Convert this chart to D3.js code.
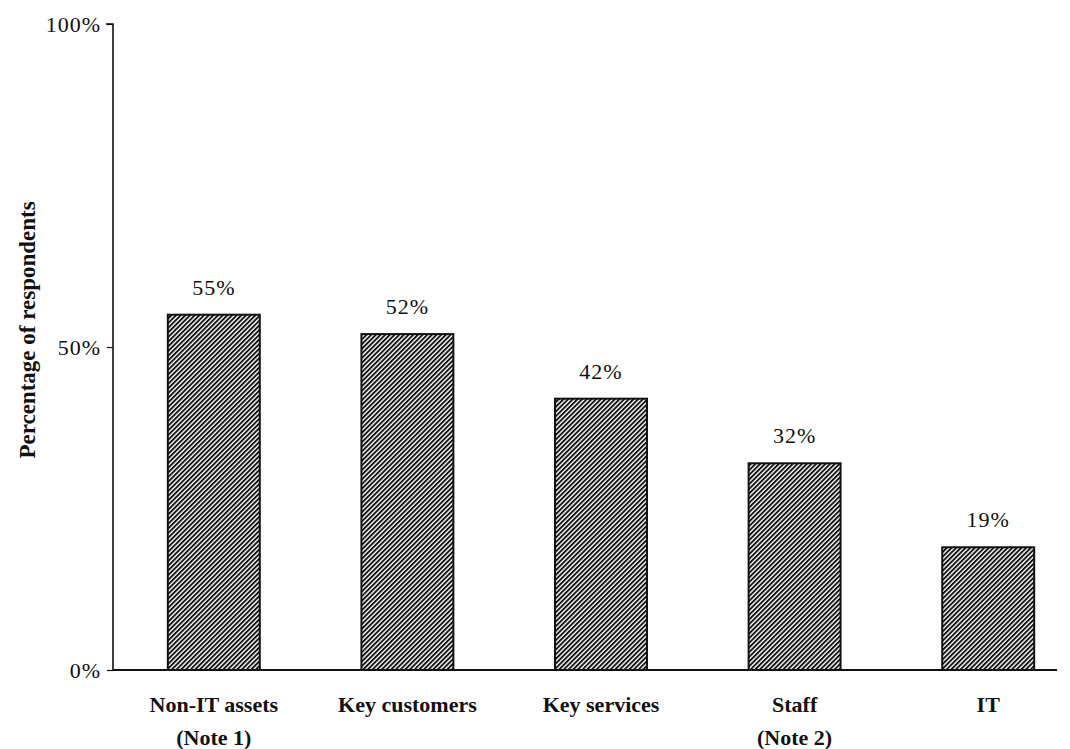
<!DOCTYPE html>
<html>
<head>
<meta charset="utf-8">
<script src="https://cdn.jsdelivr.net/npm/d3@7"></script>
<style>
  html, body { margin: 0; padding: 0; background: #fff; }
  svg { display: block; }
  text { font-family: "Liberation Serif", "DejaVu Serif", serif; fill: #111; }
</style>
</head>
<body>
<svg id="chart" width="1070" height="749"></svg>
<script>
// Share of respondents by area
const categories = ["Non-IT assets", "Key customers", "Key services", "Staff", "IT"];
const subLabels = ["(Note 1)", "", "", "(Note 2)", ""];
const values = [55, 52, 42, 32, 19];
const yTicks = [0, 50, 100];
const yTitle = "Percentage of respondents";

const svg = d3.select("#chart");

const axisX = 113, baseY = 670, topY = 24, axisEnd = 1057;

const y = d3.scaleLinear().domain([0, 100]).range([baseY, topY]);
const x = d3.scaleBand().domain(categories).range([117, 1085]).paddingInner(0.525).paddingOuter(0.2625);

// diagonal hatching
const defs = svg.append("defs");
const pat = defs.append("pattern")
  .attr("id", "hatch")
  .attr("patternUnits", "userSpaceOnUse")
  .attr("width", 3.3).attr("height", 3.3)
  .attr("patternTransform", "rotate(45)");
pat.append("rect").attr("width", 3.3).attr("height", 3.3).attr("fill", "#fff");
pat.append("rect").attr("x", 0).attr("y", 0).attr("width", 1.9).attr("height", 3.3).attr("fill", "#111");

// bars
svg.append("g").selectAll("rect")
  .data(values)
  .join("rect")
  .attr("x", (d, i) => x(categories[i]))
  .attr("y", d => y(d))
  .attr("width", x.bandwidth())
  .attr("height", d => baseY - y(d))
  .attr("fill", "url(#hatch)")
  .attr("stroke", "#111")
  .attr("stroke-width", 2);

// value labels
svg.append("g").selectAll("text")
  .data(values)
  .join("text")
  .attr("x", (d, i) => x(categories[i]) + x.bandwidth() / 2)
  .attr("y", d => y(d) - 20)
  .attr("text-anchor", "middle")
  .style("font-size", "22px")
  .style("letter-spacing", "1px")
  .text(d => d + "%");

// y axis
const yAxis = d3.axisLeft(y).tickValues(yTicks).tickSize(6).tickFormat(d => d + "%");
const gy = svg.append("g").attr("transform", `translate(${axisX},0)`).call(yAxis);
gy.select(".domain").attr("d", `M-7,${topY}H0V${baseY}`).attr("stroke", "#111").attr("stroke-width", 1.6);
gy.selectAll(".tick line").attr("stroke", "#111").attr("stroke-width", 1.2);
gy.selectAll(".tick text")
  .attr("x", -12)
  .style("font-family", '"Liberation Serif", serif')
  .style("font-size", "22px")
  .style("letter-spacing", "1px")
  .attr("fill", "#111");

// x baseline
svg.append("line")
  .attr("x1", axisX).attr("x2", axisEnd)
  .attr("y1", baseY).attr("y2", baseY)
  .attr("stroke", "#111").attr("stroke-width", 2);

// category labels
const cl = svg.append("g").selectAll("g")
  .data(categories)
  .join("g")
  .attr("transform", d => `translate(${x(d) + x.bandwidth() / 2},0)`);
cl.append("text")
  .attr("y", 712)
  .attr("text-anchor", "middle")
  .style("font-size", "22px")
  .style("font-weight", "bold")
  .text(d => d);
cl.append("text")
  .attr("y", 745)
  .attr("text-anchor", "middle")
  .style("font-size", "22px")
  .style("font-weight", "bold")
  .text((d, i) => subLabels[i]);

// y title
svg.append("text")
  .attr("transform", "translate(35,330) rotate(-90)")
  .attr("text-anchor", "middle")
  .style("font-size", "23px")
  .style("font-weight", "bold")
  .text(yTitle);
</script>
</body>
</html>
